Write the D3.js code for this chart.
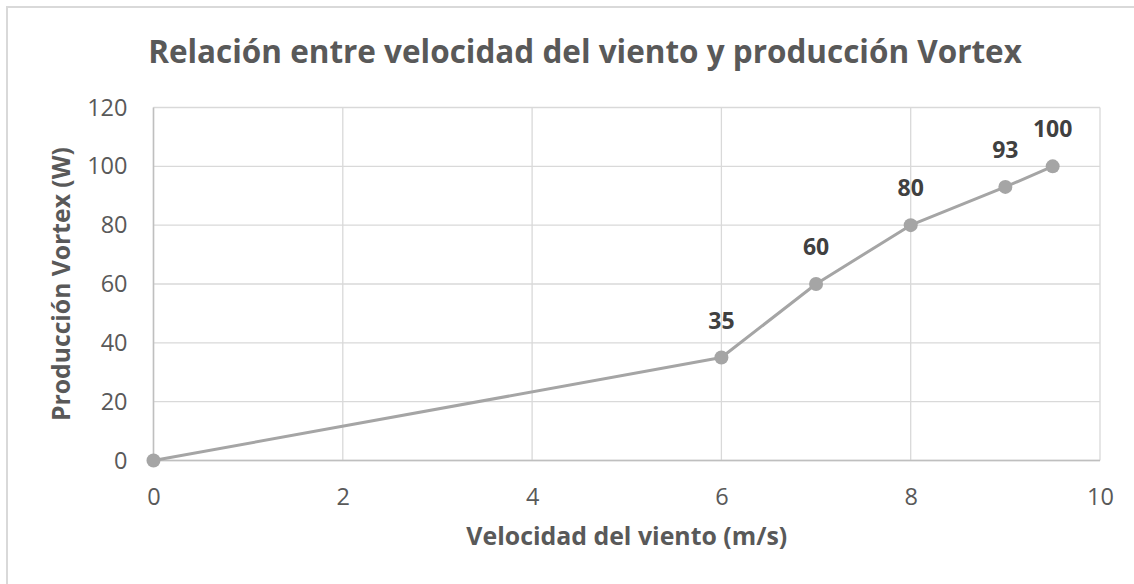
<!DOCTYPE html>
<html>
<head>
<meta charset="utf-8">
<script src="https://cdn.jsdelivr.net/npm/d3@7"></script>
<style>
  html, body { margin: 0; padding: 0; background: #fff; }
  svg { display: block; }
</style>
</head>
<body>
<svg id="chart" width="1134" height="584"></svg>
<script>
// ---- data ----
const windSpeed = [0, 6, 7, 8, 9, 9.5];
const production = [0, 35, 60, 80, 93, 100];
const showLabel = [false, true, true, true, true, true];
const xTicks = [0, 2, 4, 6, 8, 10];
const yTicks = [0, 20, 40, 60, 80, 100, 120];
const titleText = "Relación entre velocidad del viento y producción Vortex";
const xTitle = "Velocidad del viento (m/s)";
const yTitle = "Producción Vortex (W)";

const W = 1134, H = 584;
const svg = d3.select("#chart");
const FONT = "'Open Sans', 'Noto Sans', sans-serif";

// outer chart border (only left/top visible in crop)
svg.append("rect").attr("x", 7).attr("y", 7).attr("width", W + 20).attr("height", H + 20)
  .attr("fill", "#fff").attr("stroke", "#d9d9d9").attr("stroke-width", 2);

const x = d3.scaleLinear().domain([0, 10]).range([153.5, 1100]);
const y = d3.scaleLinear().domain([0, 120]).range([460.5, 107.5]);

const g = svg.append("g");

// gridlines
g.append("g").selectAll("line").data(yTicks).join("line")
  .attr("x1", x(0)).attr("x2", x(10)).attr("y1", d => y(d)).attr("y2", d => y(d))
  .attr("stroke", "#d9d9d9").attr("stroke-width", 1.3);
g.append("g").selectAll("line").data(xTicks).join("line")
  .attr("y1", y(0)).attr("y2", y(120)).attr("x1", d => x(d)).attr("x2", d => x(d))
  .attr("stroke", "#d9d9d9").attr("stroke-width", 1.3);

// axis lines
g.append("line").attr("x1", x(0)).attr("x2", x(10)).attr("y1", y(0)).attr("y2", y(0))
  .attr("stroke", "#bfbfbf").attr("stroke-width", 1.5);
g.append("line").attr("x1", x(0)).attr("x2", x(0)).attr("y1", y(0)).attr("y2", y(120))
  .attr("stroke", "#bfbfbf").attr("stroke-width", 1.5);

// axes tick labels via d3 axes
const xAxis = d3.axisBottom(x).tickValues(xTicks).tickSize(0).tickPadding(28).tickFormat(d3.format("d"));
const yAxis = d3.axisLeft(y).tickValues(yTicks).tickSize(0).tickPadding(26).tickFormat(d3.format("d"));
const xa = g.append("g").attr("transform", `translate(0,${y(0)})`).call(xAxis);
const ya = g.append("g").attr("transform", `translate(${x(0)},0)`).call(yAxis);
[xa, ya].forEach(a => {
  a.select(".domain").remove();
  a.selectAll("text").attr("font-family", FONT).attr("font-size", 23.5).attr("fill", "#595959");
});

// line
const pts = windSpeed.map((v, i) => ({ x: v, y: production[i], lab: showLabel[i] }));
g.append("path").datum(pts)
  .attr("d", d3.line().x(d => x(d.x)).y(d => y(d.y)))
  .attr("fill", "none").attr("stroke", "#a5a5a5").attr("stroke-width", 3)
  .attr("stroke-linejoin", "round");
g.append("g").selectAll("circle").data(pts).join("circle")
  .attr("cx", d => x(d.x)).attr("cy", d => y(d.y)).attr("r", 7)
  .attr("fill", "#a5a5a5");

// data labels
g.append("g").selectAll("text").data(pts.filter(d => d.lab)).join("text")
  .attr("x", d => x(d.x)).attr("y", d => y(d.y) - 29)
  .attr("text-anchor", "middle")
  .attr("font-family", FONT).attr("font-size", 23).attr("font-weight", "bold")
  .attr("fill", "#404040").text(d => d.y);

function fitWidth(sel, target) {
  const w = sel.node().getComputedTextLength();
  const fs = parseFloat(sel.attr("font-size"));
  sel.attr("font-size", fs * target / w);
}

// title
const t = svg.append("text").attr("x", 585).attr("y", 63).attr("text-anchor", "middle")
  .attr("font-family", FONT).attr("font-size", 28).attr("font-weight", "bold")
  .attr("fill", "#595959").text(titleText);
fitWidth(t, 874);

// x title
const xt = svg.append("text").attr("x", (x(0) + x(10)) / 2).attr("y", 545).attr("text-anchor", "middle")
  .attr("font-family", FONT).attr("font-size", 20).attr("font-weight", "bold")
  .attr("fill", "#595959").text(xTitle);
fitWidth(xt, 321);

// y title
const yt = svg.append("text").attr("transform", `translate(70,${(y(0) + y(120)) / 2}) rotate(-90)`)
  .attr("text-anchor", "middle")
  .attr("font-family", FONT).attr("font-size", 20).attr("font-weight", "bold")
  .attr("fill", "#595959").text(yTitle);
fitWidth(yt, 274);
</script>
</body>
</html>
